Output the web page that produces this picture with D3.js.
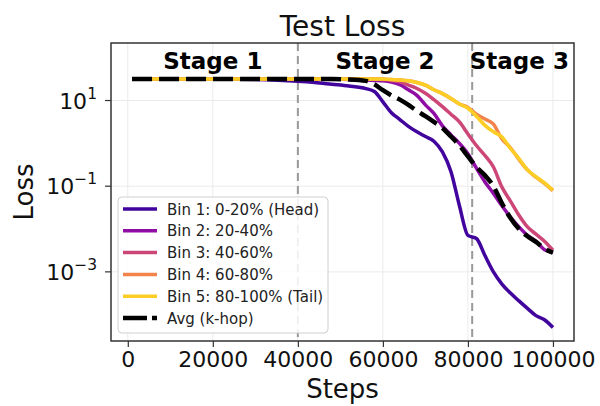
<!DOCTYPE html>
<html>
<head>
<meta charset="utf-8">
<script src="https://cdn.jsdelivr.net/npm/d3@7"></script>
<style>
    body { margin: 0; background: #fff; }
    svg { font-family: "DejaVu Sans", sans-serif; }
</style>
</head>
<body>
<div class="container"></div>
<script>
var SVG_WIDTH = 600;
var SVG_HEIGHT = 406;

// training steps at which the losses were read
var steps = [1000, 10000, 20000, 30000, 40000, 44000, 48000, 52000, 56000, 58000,
    60000, 62000, 64000, 66000, 68000, 70000, 72000, 74000, 76000, 78000,
    80000, 82000, 84000, 86000, 88000, 90000, 92000, 94000, 96000, 98000, 100000];

var bin1 = [31.6, 31.6, 31.6, 30.9, 28.2, 26.3, 24.0, 21.9, 19.0, 16.2,
    9.3, 5.2, 3.6, 2.5, 1.86, 1.45, 1.12, 0.63, 0.22, 0.035,
    0.0071, 0.0060, 0.0024, 0.0010, 0.00052, 0.00032, 0.00021, 0.00014, 0.000095, 0.000076, 0.000050];
var bin2 = [31.6, 31.6, 31.6, 31.6, 31.6, 31.6, 31.6, 30.9, 30.2, 29.5,
    28.8, 26.9, 23.4, 17.8, 13.2, 7.9, 5.0, 2.57, 1.58, 1.0,
    0.575, 0.263, 0.126, 0.068, 0.035, 0.019, 0.0112, 0.0071, 0.0052, 0.0033, 0.0029];
var bin3 = [31.6, 31.6, 31.6, 31.6, 31.6, 31.6, 31.6, 31.6, 31.6, 31.6,
    30.9, 29.5, 27.5, 22.9, 19.1, 14.8, 10.5, 7.2, 4.8, 3.16,
    1.66, 0.89, 0.52, 0.28, 0.095, 0.045, 0.021, 0.0112, 0.0076, 0.0052, 0.0032];
var bin4 = [31.6, 31.6, 31.6, 31.6, 31.6, 31.6, 31.6, 31.6, 31.6, 31.6,
    31.6, 30.9, 30.2, 28.8, 26.3, 22.9, 17.8, 14.5, 11.2, 8.3,
    6.9, 4.8, 3.7, 2.8, 1.26, 0.79, 0.42, 0.24, 0.162, 0.117, 0.079];
var bin5 = [31.6, 31.6, 31.6, 31.6, 31.6, 31.6, 31.6, 31.6, 31.6, 31.6,
    31.6, 30.9, 30.2, 28.8, 26.3, 22.9, 17.8, 14.5, 11.2, 8.3,
    6.6, 4.3, 2.63, 1.86, 1.41, 0.76, 0.44, 0.24, 0.166, 0.120, 0.081];
var avgKhop = [31.6, 31.6, 31.6, 31.6, 31.6, 31.6, 31.6, 31.0, 28.8, 24.0,
    17.4, 13.2, 10.5, 7.9, 5.75, 4.3, 3.16, 2.29, 1.45, 0.89,
    0.50, 0.28, 0.18, 0.10, 0.040, 0.018, 0.010, 0.0068, 0.0050, 0.0035, 0.0028];

var seriesNames = ['Bin 1: 0-20% (Head)', 'Bin 2: 20-40%', 'Bin 3: 40-60%',
    'Bin 4: 60-80%', 'Bin 5: 80-100% (Tail)'];
var seriesValues = [bin1, bin2, bin3, bin4, bin5];
var avgName = 'Avg (k-hop)';

var xTicks = [0, 20000, 40000, 60000, 80000, 100000];
var yTickExps = [1, -1, -3];

var stageBounds = [40000, 81000];
var stageLabels = ['Stage 1', 'Stage 2', 'Stage 3'];
var stageCenters = [20000, 60500, 92100];

document.addEventListener('DOMContentLoaded', function () {
    var margin = { left: 111, right: 26, top: 43, bottom: 65 };
    var plotW = SVG_WIDTH - margin.left - margin.right;
    var plotH = SVG_HEIGHT - margin.top - margin.bottom;

    var svg = d3.select('.container')
        .append('svg')
        .attr('width', SVG_WIDTH)
        .attr('height', SVG_HEIGHT);

    var x = d3.scaleLinear()
        .domain([-3950, 104950])
        .range([margin.left, margin.left + plotW]);
    var y = d3.scaleLog()
        .domain([Math.pow(10, -4.614), Math.pow(10, 2.343)])
        .range([margin.top + plotH, margin.top]);

    var color = function (i) {
        return d3.interpolatePlasma(0.1 + i * 0.2);
    };

    svg.append('clipPath').attr('id', 'plot-clip')
        .append('rect')
        .attr('x', margin.left)
        .attr('y', margin.top)
        .attr('width', plotW)
        .attr('height', plotH);

    // grid
    var grid = svg.append('g').attr('class', 'grid');
    grid.selectAll('.gx')
        .data(xTicks)
        .enter()
        .append('line')
        .attr('x1', function (d) { return x(d); })
        .attr('x2', function (d) { return x(d); })
        .attr('y1', margin.top)
        .attr('y2', margin.top + plotH)
        .attr('stroke', '#ebebeb')
        .attr('stroke-width', 1);
    grid.selectAll('.gy')
        .data(yTickExps)
        .enter()
        .append('line')
        .attr('x1', margin.left)
        .attr('x2', margin.left + plotW)
        .attr('y1', function (d) { return y(Math.pow(10, d)); })
        .attr('y2', function (d) { return y(Math.pow(10, d)); })
        .attr('stroke', '#ebebeb')
        .attr('stroke-width', 1);

    // stage boundaries
    svg.append('g')
        .selectAll('line')
        .data(stageBounds)
        .enter()
        .append('line')
        .attr('x1', function (d) { return x(d); })
        .attr('x2', function (d) { return x(d); })
        .attr('y1', margin.top)
        .attr('y2', margin.top + plotH)
        .attr('stroke', '#999')
        .attr('stroke-width', 2)
        .attr('stroke-dasharray', '8,5');

    var line = d3.line()
        .curve(d3.curveMonotoneX)
        .x(function (d) { return x(d[0]); })
        .y(function (d) { return y(d[1]); });

    var lines = svg.append('g').attr('clip-path', 'url(#plot-clip)');
    seriesValues.forEach(function (vals, i) {
        lines.append('path')
            .datum(d3.zip(steps, vals))
            .attr('d', line)
            .attr('fill', 'none')
            .attr('stroke', color(i))
            .attr('stroke-width', 3.5)
            .attr('stroke-linejoin', 'round');
    });
    lines.append('path')
        .datum(d3.zip(steps, avgKhop))
        .attr('d', line)
        .attr('fill', 'none')
        .attr('stroke', '#000')
        .attr('stroke-width', 4.5)
        .attr('stroke-dasharray', '20,7');

    // stage labels
    svg.append('g')
        .selectAll('text')
        .data(stageLabels)
        .enter()
        .append('text')
        .attr('x', function (d, i) { return x(stageCenters[i]); })
        .attr('y', 69)
        .attr('text-anchor', 'middle')
        .attr('font-weight', 'bold')
        .attr('font-size', 23)
        .text(function (d) { return d; });

    // axes
    var xAxis = svg.append('g')
        .attr('transform', 'translate(0,' + (margin.top + plotH) + ')')
        .call(d3.axisBottom(x).tickValues(xTicks).tickFormat(d3.format('d')).tickSizeOuter(0).tickSize(6).tickPadding(4));
    xAxis.select('.domain').remove();
    xAxis.selectAll('line').attr('stroke', '#333').attr('stroke-width', 1.2);
    xAxis.selectAll('text').attr('font-size', 22).attr('fill', '#111')
        .attr('font-family', '"DejaVu Sans", sans-serif');

    var yAxis = svg.append('g')
        .attr('transform', 'translate(' + margin.left + ',0)');
    var yt = yAxis.selectAll('g')
        .data(yTickExps)
        .enter()
        .append('g')
        .attr('transform', function (d) { return 'translate(0,' + y(Math.pow(10, d)) + ')'; });
    yt.append('line')
        .attr('x1', -6)
        .attr('x2', 0)
        .attr('stroke', '#333')
        .attr('stroke-width', 1.2);
    var ytxt = yt.append('text')
        .attr('x', -14)
        .attr('y', 8)
        .attr('text-anchor', 'end')
        .attr('font-size', 22)
        .attr('fill', '#111');
    ytxt.append('tspan').text('10');
    ytxt.append('tspan')
        .attr('dy', -10)
        .attr('font-size', 15.5)
        .text(function (d) { return d < 0 ? '\u2212' + Math.abs(d) : String(d); });

    // frame
    svg.append('rect')
        .attr('x', margin.left)
        .attr('y', margin.top)
        .attr('width', plotW)
        .attr('height', plotH)
        .attr('fill', 'none')
        .attr('stroke', '#333')
        .attr('stroke-width', 1.5);

    // titles
    svg.append('text')
        .attr('x', margin.left + plotW / 2)
        .attr('y', 36)
        .attr('text-anchor', 'middle')
        .attr('font-size', 28)
        .attr('fill', '#111')
        .text('Test Loss');
    svg.append('text')
        .attr('x', margin.left + plotW / 2)
        .attr('y', 398)
        .attr('text-anchor', 'middle')
        .attr('font-size', 26)
        .attr('fill', '#111')
        .text('Steps');
    svg.append('text')
        .attr('transform', 'translate(33,' + (margin.top + plotH / 2) + ') rotate(-90)')
        .attr('text-anchor', 'middle')
        .attr('font-size', 26)
        .attr('fill', '#111')
        .text('Loss');

    // legend
    var legendX = 118, legendY = 197;
    var legend = svg.append('g').attr('class', 'legend')
        .attr('transform', 'translate(' + legendX + ',' + legendY + ')');
    legend.append('rect')
        .attr('width', 210)
        .attr('height', 136)
        .attr('rx', 4)
        .attr('fill', '#fff')
        .attr('fill-opacity', 0.85)
        .attr('stroke', '#d0d0d0')
        .attr('stroke-width', 1);

    var entries = seriesNames.map(function (n, i) { return { name: n, color: color(i), dash: null }; });
    entries.push({ name: avgName, color: '#000', dash: '20,7' });

    var item = legend.selectAll('.item')
        .data(entries)
        .enter()
        .append('g')
        .attr('transform', function (d, i) { return 'translate(0,' + (12 + i * 21.8) + ')'; });
    item.append('line')
        .attr('x1', 5)
        .attr('x2', 39)
        .attr('stroke', function (d) { return d.color; })
        .attr('stroke-width', function (d) { return d.dash ? 4.5 : 3.5; })
        .attr('stroke-dasharray', function (d) { return d.dash ? '24,5,5,10' : null; });
    item.append('text')
        .attr('x', 49)
        .attr('y', 5.5)
        .attr('font-size', 15)
        .attr('fill', '#222')
        .text(function (d) { return d.name; });
});
</script>
</body>
</html>
